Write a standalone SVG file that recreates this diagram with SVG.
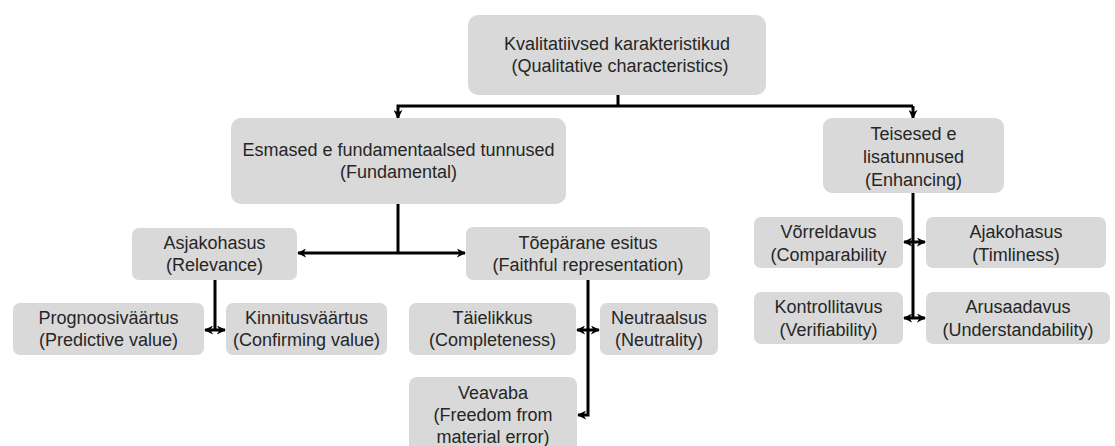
<svg xmlns="http://www.w3.org/2000/svg" width="1115" height="446" viewBox="0 0 1115 446">
<defs>
<style>
.box{fill:#d9d9d9;}
text{font-family:"Liberation Sans",Arial,sans-serif;font-size:18px;fill:#262626;text-anchor:middle;}
.ln{fill:none;stroke:#000;stroke-width:3;}
</style>
<marker id="ah" viewBox="0 0 10 10" refX="9" refY="5" markerWidth="9" markerHeight="9" markerUnits="userSpaceOnUse" orient="auto-start-reverse">
<path d="M0,0 L10,5 L0,10 L3,5 Z" fill="#000"/>
</marker>
</defs>
<rect width="1115" height="446" fill="#fff"/>
<g id="connectors">
<path class="ln" d="M618,95 V106"/>
<path class="ln" d="M913,106 H398 V118" marker-end="url(#ah)"/>
<path class="ln" d="M913,106 V118" marker-end="url(#ah)"/>
<path class="ln" d="M398,204 V253"/>
<path class="ln" d="M298,253 H465" marker-start="url(#ah)" marker-end="url(#ah)"/>
<path class="ln" d="M215,280 V330"/>
<path class="ln" d="M205,330 H225" marker-start="url(#ah)" marker-end="url(#ah)"/>
<path class="ln" d="M588,280 V415 H578" marker-end="url(#ah)"/>
<path class="ln" d="M577,330 H599" marker-start="url(#ah)" marker-end="url(#ah)"/>
<path class="ln" d="M913,193 V318"/>
<path class="ln" d="M904,242 H925" marker-start="url(#ah)" marker-end="url(#ah)"/>
<path class="ln" d="M904,318 H925" marker-start="url(#ah)" marker-end="url(#ah)"/>
</g>
<g id="n-top"><rect class="box" x="468" y="15" width="298" height="80" rx="10"/><text x="617" y="50">Kvalitatiivsed karakteristikud</text><text x="620" y="72"> (Qualitative characteristics)</text></g>
<g id="n-fund"><rect class="box" x="231" y="118" width="335" height="86" rx="10"/><text x="398.5" y="156">Esmased e fundamentaalsed tunnused</text><text x="398.5" y="178">(Fundamental)</text></g>
<g id="n-enh"><rect class="box" x="823" y="118" width="181" height="75" rx="9"/><text x="913.5" y="140">Teisesed e</text><text x="913.5" y="163">lisatunnused</text><text x="913.5" y="186">(Enhancing)</text></g>
<g id="n-rel"><rect class="box" x="132" y="228" width="165" height="52" rx="7"/><text x="214.5" y="249">Asjakohasus</text><text x="214.5" y="271">(Relevance)</text></g>
<g id="n-faith"><rect class="box" x="466" y="227" width="244" height="53" rx="7"/><text x="588" y="249">Tõepärane esitus</text><text x="588" y="271">(Faithful representation)</text></g>
<g id="n-pred"><rect class="box" x="13" y="303" width="191" height="52" rx="7"/><text x="108.5" y="324">Prognoosiväärtus</text><text x="108.5" y="346">(Predictive value)</text></g>
<g id="n-conf"><rect class="box" x="226" y="303" width="161" height="52" rx="7"/><text x="306.5" y="324">Kinnitusväärtus</text><text x="306.5" y="346">(Confirming value)</text></g>
<g id="n-comp"><rect class="box" x="409" y="303" width="167" height="52" rx="7"/><text x="492.5" y="324">Täielikkus</text><text x="492.5" y="346">(Completeness)</text></g>
<g id="n-neut"><rect class="box" x="600" y="303" width="118" height="52" rx="7"/><text x="659" y="324">Neutraalsus</text><text x="659" y="346">(Neutrality)</text></g>
<g id="n-free"><rect class="box" x="409" y="377" width="168" height="85" rx="8"/><text x="493" y="399">Veavaba</text><text x="493" y="421">(Freedom from</text><text x="493" y="443">material error)</text></g>
<g id="n-compar"><rect class="box" x="754" y="217" width="149" height="51" rx="7"/><text x="828.5" y="238">Võrreldavus</text><text x="828.5" y="261">(Comparability</text></g>
<g id="n-time"><rect class="box" x="926" y="217" width="180" height="51" rx="7"/><text x="1016" y="238">Ajakohasus</text><text x="1016" y="261">(Timliness)</text></g>
<g id="n-verif"><rect class="box" x="754" y="292" width="149" height="52" rx="7"/><text x="828.5" y="313">Kontrollitavus</text><text x="828.5" y="336">(Verifiability)</text></g>
<g id="n-under"><rect class="box" x="926" y="292" width="184" height="52" rx="7"/><text x="1018" y="313">Arusaadavus</text><text x="1018" y="336">(Understandability)</text></g>
</svg>
